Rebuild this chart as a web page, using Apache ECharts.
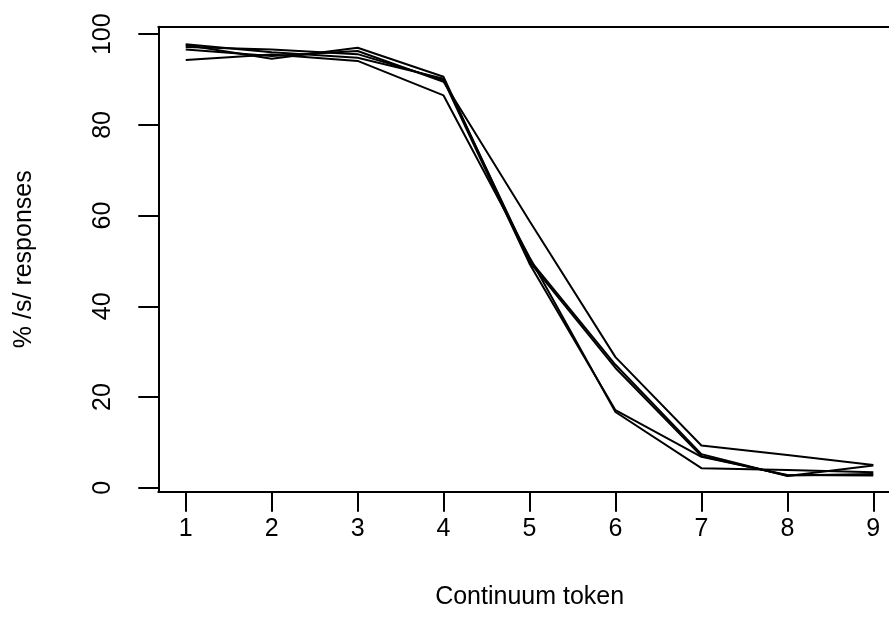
<!DOCTYPE html>
<html>
<head>
<meta charset="utf-8">
<script src="https://cdn.jsdelivr.net/npm/echarts@6/dist/echarts.min.js"></script>
<style>
  html, body { margin: 0; padding: 0; background: #fff; }
  #chart { width: 889px; height: 641px; }
</style>
</head>
<body>
<div id="chart"></div>
<script>
// Continuum steps (x) and tick labels
const tokens = [1, 2, 3, 4, 5, 6, 7, 8, 9];
const xTicks = [1, 2, 3, 4, 5, 6, 7, 8, 9];
const yTicks = [0, 20, 40, 60, 80, 100];

// % /s/ responses for each of five listeners/conditions
const run1 = [97.8, 96.0, 94.8, 90.2, 50.3, 27.1, 7.4, 2.6, 4.9];
const run2 = [97.6, 94.6, 97.0, 90.6, 49.8, 26.4, 7.0, 2.7, 3.0];
const run3 = [97.2, 96.6, 95.6, 89.9, 49.4, 17.1, 6.8, 2.8, 2.7];
const run4 = [94.3, 95.5, 94.1, 86.5, 50.8, 16.7, 4.3, 3.9, 3.4];
const run5 = [96.6, 95.2, 96.3, 89.5, 58.8, 28.8, 9.3, 7.2, 5.0];

const runs = [run1, run2, run3, run4, run5];

const FONT = '"Liberation Sans", Arial, Helvetica, sans-serif';
const chart = echarts.init(document.getElementById('chart'), null, { renderer: 'canvas' });

const axisLineStyle = { color: '#000', width: 2 };

chart.setOption({
  animation: false,
  backgroundColor: '#ffffff',
  grid: { left: 158.3, top: 26.7, width: 730.7, height: 465, show: false },
  xAxis: [{
    type: 'value', min: 0.681, max: 9.1825, position: 'bottom',
    name: 'Continuum token', nameLocation: 'middle', nameGap: 93,
    nameTextStyle: { fontFamily: FONT, fontSize: 25, color: '#000', padding: [0, 0, 0, 12] },
    axisLine: { show: true, onZero: false, lineStyle: axisLineStyle },
    splitLine: { show: false },
    axisTick: { show: true, length: 20, customValues: xTicks, lineStyle: axisLineStyle },
    axisLabel: { customValues: xTicks, margin: 25, fontFamily: FONT, fontSize: 25, color: '#000' }
  }, {
    type: 'value', min: 0.681, max: 9.1825, position: 'top',
    axisLine: { show: true, onZero: false, lineStyle: axisLineStyle },
    splitLine: { show: false }, axisTick: { show: false }, axisLabel: { show: false }
  }],
  yAxis: {
    type: 'value', min: -0.88, max: 101.65,
    name: '% /s/ responses', nameLocation: 'middle', nameGap: 122, nameRotate: 90,
    nameTextStyle: { fontFamily: FONT, fontSize: 25, color: '#000' },
    axisLine: { show: true, onZero: false, lineStyle: axisLineStyle },
    splitLine: { show: false },
    axisTick: { show: true, length: 20, customValues: yTicks, lineStyle: axisLineStyle },
    axisLabel: {
      customValues: yTicks, rotate: 90, align: 'center', verticalAlign: 'bottom',
      margin: 43, fontFamily: FONT, fontSize: 25, color: '#000'
    }
  },
  series: runs.map((r, i) => ({
    name: 'run' + (i + 1),
    type: 'line',
    xAxisIndex: 0,
    data: tokens.map((t, j) => [t, r[j]]),
    symbol: 'none',
    lineStyle: { color: '#000', width: 2 },
    silent: true
  }))
});
</script>
</body>
</html>
